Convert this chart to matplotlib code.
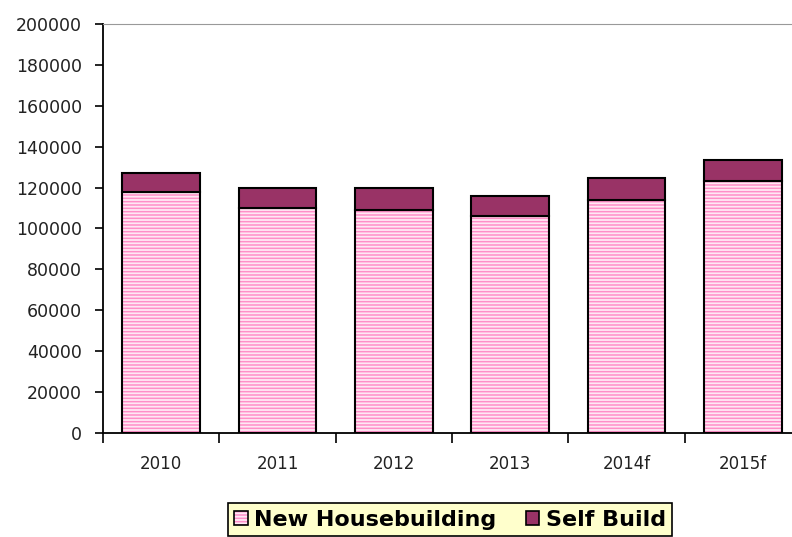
import numpy as np
import matplotlib
matplotlib.use("Agg")
import matplotlib.pyplot as plt
from matplotlib.patches import Patch

years = ['2010', '2011', '2012', '2013', '2014f', '2015f']
new_housebuilding = [118000, 110000, 109000, 106000, 114000, 123000]
self_build = [9000, 10000, 11000, 10000, 10500, 10500]

pink_bg = '#ffe8f4'
pink_line = '#ff8fc8'
plum = '#993366'

plt.rcParams['hatch.linewidth'] = 1.1

fig = plt.figure(figsize=(7.92, 5.37), dpi=100)
# plot area runs past the right edge of the picture, as in the reference
ax = fig.add_axes([103 / 792, 1 - 433 / 537, 698 / 792, 409 / 537])

x = np.arange(len(years))
w = 0.67
ax.bar(x, new_housebuilding, w, color=pink_bg, edgecolor=pink_line,
       hatch='-----', linewidth=0, zorder=2)
ax.bar(x, new_housebuilding, w, fill=False, edgecolor='black', linewidth=1.5, zorder=3)
ax.bar(x, self_build, w, bottom=new_housebuilding, color=plum,
       edgecolor='black', linewidth=1.5, zorder=3)

ax.set_xlim(-0.5, len(years) - 0.5)
ax.set_ylim(0, 200000)
ax.set_yticks(np.arange(0, 200001, 20000))
ax.set_yticklabels([str(v) for v in range(0, 200001, 20000)], fontsize=12.5, color='#222222')
ax.set_xticks(x)
ax.set_xticklabels(years, fontsize=12, color='#222222')
ax.set_xticks(np.arange(-0.5, len(years)), minor=True)
ax.tick_params(axis='x', which='major', length=0, pad=16)
ax.tick_params(axis='x', which='minor', length=7, width=1.2, direction='out')
ax.tick_params(axis='y', length=6, width=1.2, direction='out', pad=9)

ax.spines['left'].set_linewidth(1.3)
ax.spines['bottom'].set_linewidth(1.3)
ax.spines['top'].set_color('#999999')
ax.spines['right'].set_visible(False)

nh_handle = (Patch(facecolor=pink_bg, edgecolor=pink_line, hatch='-----', linewidth=0),
             Patch(fill=False, edgecolor='black', linewidth=1.2))
sb_handle = Patch(facecolor=plum, edgecolor='black', linewidth=1.2)
leg = fig.legend([nh_handle, sb_handle], ['New Housebuilding', 'Self Build'],
                 loc='upper center', bbox_to_anchor=(450 / 792, 1 - 503 / 537), ncol=2,
                 frameon=True, fancybox=False, edgecolor='black', facecolor='#ffffcc',
                 framealpha=1, prop={'weight': 'bold', 'size': 16},
                 handlelength=0.6, handleheight=0.6, handletextpad=0.3,
                 columnspacing=1.3, borderpad=0.3, borderaxespad=0)
leg.get_frame().set_linewidth(1.2)

fig.savefig('out.png', dpi=100)
